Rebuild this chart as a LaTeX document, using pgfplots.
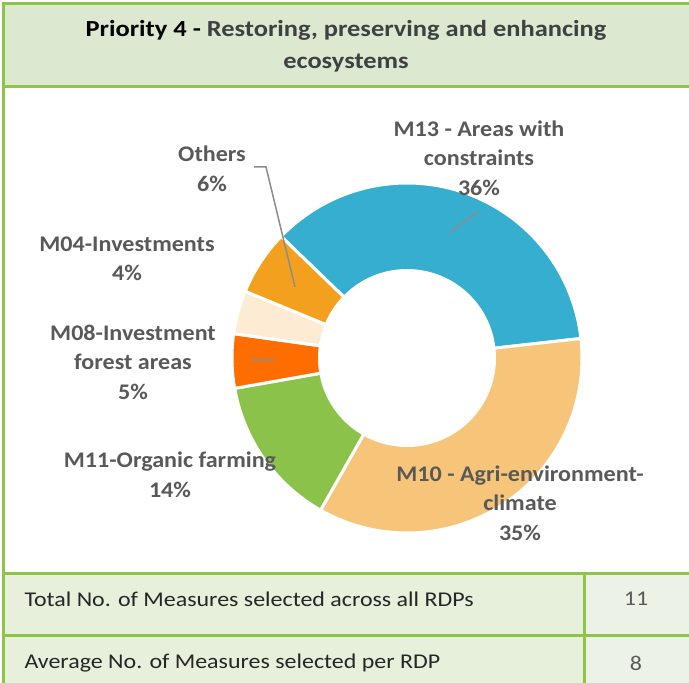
\documentclass[border=0pt]{standalone}
\usepackage{pgfplots}
\pgfplotsset{compat=1.18}
\usepackage{fontspec}
\setmainfont{Carlito}
\newfontfamily\fTitle[FakeStretch=1.15]{Carlito}
\newfontfamily\fLab[FakeStretch=1.08]{Carlito}
\newfontfamily\fTab[FakeStretch=1.14]{Carlito}
\definecolor{gline}{HTML}{8DC449}
\definecolor{titlefill}{HTML}{DCE8D0}
\definecolor{cellL}{HTML}{E6F0DA}
\definecolor{cellR}{HTML}{ECF2E6}
\definecolor{lbl}{HTML}{595959}
\definecolor{ttl}{HTML}{404040}
\definecolor{cBlue}{HTML}{35AECF}
\definecolor{cPeach}{HTML}{F7C57A}
\definecolor{cGreen}{HTML}{8BC34A}
\definecolor{cRed}{HTML}{FF6C00}
\definecolor{cCream}{HTML}{FDEBD3}
\definecolor{cOrange}{HTML}{F2A01E}
\begin{document}
\begin{tikzpicture}[x=1pt,y=1pt]
\useasboundingbox (0,0) rectangle (689,683);
\clip (0,0) rectangle (689,683);
% frame
\fill[white] (0,0) rectangle (689,683);
\fill[titlefill] (3.5,596) rectangle (700,679);
\fill[cellL] (3.5,-5) rectangle (584,109);
\fill[cellR] (584,-5) rectangle (700,109);
\draw[gline,line width=3] (3.5,-5) -- (3.5,680.5);
\draw[gline,line width=3] (2,679) -- (700,679);
\draw[gline,line width=3] (2,596) -- (700,596);
\draw[gline,line width=3] (2,109) -- (700,109);
\draw[gline,line width=3] (2,47) -- (700,47);
\draw[gline,line width=3] (584,-5) -- (584,109);
% title
\node[font=\fTitle\fontsize{23}{32}\selectfont\bfseries,align=center,text=ttl] at (346,637)
 {\textcolor{black}{Priority 4 -} Restoring, preserving and enhancing\\ecosystems};
% table text
\node[font=\fTab\fontsize{21}{24}\selectfont,anchor=west,text=black!85] at (21,84) {Total No. of Measures selected across all RDPs};
\node[font=\fTab\fontsize{21}{24}\selectfont,anchor=west,text=black!85] at (21,20) {Average No. of Measures selected per RDP};
\node[font=\fTab\fontsize{21}{24}\selectfont,text=lbl] at (636,84) {11};
\node[font=\fTab\fontsize{21}{24}\selectfont,text=lbl] at (636,20) {8};
% donut: shares 36, 35, 14, 5, 4, 6 (%), starting at 136 deg, clockwise
\begin{axis}[at={(407,325)},anchor=origin,x=1pt,y=1pt,
  xmin=-180,xmax=180,ymin=-180,ymax=180,hide axis,clip=false]
\addplot[fill=cBlue,draw=white,line width=3,domain=6.4:136,samples=90,variable=\t]
  ({175*cos(\t)},{175*sin(\t)}) -- (axis cs:0,0) -- cycle;
\addplot[fill=cPeach,draw=white,line width=3,domain=-119.6:6.4,samples=90,variable=\t]
  ({175*cos(\t)},{175*sin(\t)}) -- (axis cs:0,0) -- cycle;
\addplot[fill=cGreen,draw=white,line width=3,domain=-170:-119.6,samples=40,variable=\t]
  ({175*cos(\t)},{175*sin(\t)}) -- (axis cs:0,0) -- cycle;
\addplot[fill=cRed,draw=white,line width=3,domain=172:190,samples=20,variable=\t]
  ({175*cos(\t)},{175*sin(\t)}) -- (axis cs:0,0) -- cycle;
\addplot[fill=cCream,draw=white,line width=3,domain=157.6:172,samples=20,variable=\t]
  ({175*cos(\t)},{175*sin(\t)}) -- (axis cs:0,0) -- cycle;
\addplot[fill=cOrange,draw=white,line width=3,domain=136:157.6,samples=20,variable=\t]
  ({175*cos(\t)},{175*sin(\t)}) -- (axis cs:0,0) -- cycle;
\addplot[fill=white,draw=none,domain=0:360,samples=120,variable=\t]
  ({89*cos(\t)},{89*sin(\t)});
\end{axis}
% leader lines
\draw[gray!90,line width=1.5] (449,450) -- (479,472);
\draw[gray!90,line width=1.5] (254,516) -- (266,516) -- (295,396);
\draw[gray!90,line width=1.5] (252,323) -- (274,323);
% labels
\begin{scope}[every node/.style={font=\fLab\fontsize{22.3}{29.5}\selectfont\bfseries,align=center,text=lbl}]
\node at (479,525) {M13 - Areas with\\constraints\\36\%};
\node at (212,514) {Others\\6\%};
\node at (127,424) {M04-Investments\\4\%};
\node at (133,321) {M08-Investment\\forest areas\\5\%};
\node at (170,208) {M11-Organic farming\\14\%};
\node at (520,180) {M10 - Agri-environment-\\climate\\35\%};
\end{scope}
\end{tikzpicture}
\end{document}
